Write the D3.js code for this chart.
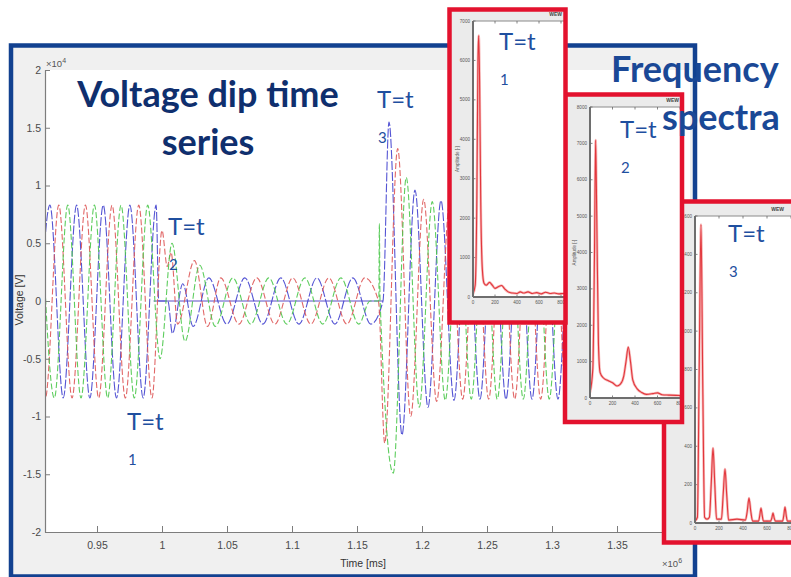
<!DOCTYPE html>
<html>
<head>
<meta charset="utf-8">
<script src="https://cdn.jsdelivr.net/npm/d3@7"></script>
<style>
  body { margin: 0; background: #fff; }
  svg { display: block; }
</style>
</head>
<body>
<svg id="fig" width="791" height="577"></svg>
<script>
// ---------------- data ----------------
// main voltage plot axes (time in x1e6 ms, voltage in x1e4 V)
const xTickValues = [0.95, 1, 1.05, 1.1, 1.15, 1.2, 1.25, 1.3, 1.35];
const xTickLabels = ["0.95", "1", "1.05", "1.1", "1.15", "1.2", "1.25", "1.3", "1.35"];
const yTickValues = [-2, -1.5, -1, -0.5, 0, 0.5, 1, 1.5, 2];
const yTickLabels = ["-2", "-1.5", "-1", "-0.5", "0", "0.5", "1", "1.5", "2"];

// phase voltages given as successive extrema [time, voltage]
const phaseA = [ // blue
  [0.9035,-0.83],[0.9138,0.83],[0.9240,-0.84],[0.9343,0.83],[0.9445,-0.84],[0.9548,0.83],
  [0.9650,-0.84],[0.9753,0.83],[0.9855,-0.84],[0.9955,0.83],[0.9975,0.00],[1.0045,0.00],
  [1.0080,-0.28],[1.0160,0.15],[1.0240,-0.22],[1.0360,0.20],[1.0499,-0.20],[1.0637,0.20],
  [1.0776,-0.20],[1.0914,0.20],[1.1053,-0.20],[1.1191,0.20],[1.1330,-0.20],[1.1468,0.20],
  [1.1607,-0.20],[1.1700,0.00],[1.1746,1.55],[1.1846,-1.16],[1.1946,0.96],[1.2046,-0.92],
  [1.2146,0.87],[1.2246,-0.86],[1.2346,0.85],[1.2446,-0.85],[1.2546,0.85],[1.2646,-0.85],
  [1.2746,0.85],[1.2846,-0.85],[1.2946,0.85],[1.3046,-0.85],[1.3146,0.85],[1.3246,-0.85]
];
const phaseB = [ // red
  [0.9001,0.83],[0.9103,-0.84],[0.9206,0.83],[0.9308,-0.84],[0.9411,0.83],[0.9513,-0.84],
  [0.9616,0.83],[0.9718,-0.84],[0.9821,0.83],[0.9923,-0.84],[1.0000,0.61],[1.0040,0.30],
  [1.0070,0.42],[1.0120,-0.20],[1.0250,0.35],[1.0350,-0.22],[1.0452,0.20],[1.0591,-0.20],
  [1.0729,0.20],[1.0868,-0.20],[1.1006,0.20],[1.1145,-0.20],[1.1283,0.20],[1.1422,-0.20],
  [1.1560,0.20],[1.1665,0.00],[1.1713,-1.23],[1.1813,1.32],[1.1913,-1.00],[1.2013,0.88],
  [1.2113,-0.87],[1.2213,0.85],[1.2313,-0.85],[1.2413,0.85],[1.2513,-0.85],[1.2613,0.85],
  [1.2713,-0.85],[1.2813,0.85],[1.2913,-0.85],[1.3013,0.85],[1.3113,-0.85],[1.3213,0.85]
];
const phaseC = [ // green
  [0.9070,0.83],[0.9172,-0.84],[0.9275,0.83],[0.9377,-0.84],[0.9480,0.83],[0.9582,-0.84],
  [0.9685,0.83],[0.9787,-0.84],[0.9890,0.83],[0.9985,-0.50],[1.0077,0.50],[1.0177,-0.35],
  [1.0290,0.31],[1.0410,-0.22],[1.0545,0.20],[1.0683,-0.20],[1.0822,0.20],[1.0960,-0.20],
  [1.1099,0.20],[1.1237,-0.20],[1.1376,0.20],[1.1514,-0.20],[1.1600,0.00],[1.1668,0.00],
  [1.1672,0.67],[1.1677,0.02],[1.1779,-1.49],[1.1879,1.07],[1.1979,-0.92],[1.2079,0.86],
  [1.2179,-0.86],[1.2279,0.85],[1.2379,-0.85],[1.2479,0.85],[1.2579,-0.85],[1.2679,0.85],
  [1.2779,-0.85],[1.2879,0.85],[1.2979,-0.85],[1.3079,0.85],[1.3179,-0.85],[1.3279,0.85]
];
// flat trace held at zero while the breaker is open
const zeroTrace = [[0.9935,0],[1.1700,0]];

// spectra [frequency Hz, amplitude]
const spectrumT1 = [
  [0,80],[20,300],[35,2500],[45,6000],[52,6630],[60,5500],[70,2500],[85,700],[100,350],
  [120,300],[150,370],[175,300],[200,220],[230,260],[260,290],[290,200],[320,130],[360,100],
  [400,90],[430,130],[460,100],[500,130],[540,90],[580,110],[620,80],[660,120],[700,90],
  [740,100],[780,80],[820,90],[900,80],[1000,80]
];
const spectrumT2 = [
  [0,150],[25,800],[40,4000],[50,7090],[60,5000],[75,1500],[90,700],[120,550],[160,480],
  [200,420],[240,330],[270,380],[300,600],[320,1000],[340,1400],[360,1000],[380,500],
  [420,250],[460,150],[500,100],[560,120],[600,140],[640,90],[700,80],[800,70],[1000,70]
];
const spectrumT3 = [
  [0,10],[20,30],[35,800],[50,1556],[65,700],[80,30],[100,20],[120,30],[135,200],[150,390],
  [165,200],[180,20],[220,20],[235,150],[250,281],[265,140],[280,15],[350,20],[420,15],
  [435,60],[450,130],[465,60],[480,10],[530,10],[540,40],[550,78],[560,40],[570,10],
  [630,10],[640,25],[650,52],[660,25],[670,10],[730,10],[740,40],[750,83],[760,40],
  [770,10],[800,10],[1000,10]
];
const freqTicks = [0, 200, 400, 600, 800, 1000];
const ampTicksT1 = [0, 1000, 2000, 3000, 4000, 5000, 6000, 7000];
const ampTicksT2 = [0, 1000, 2000, 3000, 4000, 5000, 6000, 7000, 8000];
const ampTicksT3 = [0, 200, 400, 600, 800, 1000, 1200, 1400, 1600];

// ---------------- drawing ----------------
const svg = d3.select("#fig");
const defs = svg.append("defs");
const NAVY = "#0f2f6e", BLUE_TXT = "#1a4896", LABEL = "#1f4f9f";
const FRAME = "#124190", INSET_RED = "#e3122e";
const AX_FONT = "'Liberation Sans Narrow','Arial Narrow','Liberation Sans',Arial,sans-serif";
const TITLE_FONT = "Lato,'Open Sans',sans-serif";

svg.append("rect").attr("width", 791).attr("height", 577).attr("fill", "#fff");

// figure frame
svg.append("rect")
  .attr("x", 11).attr("y", 45.5).attr("width", 684).attr("height", 531)
  .attr("fill", "#f0f0f0").attr("stroke", FRAME).attr("stroke-width", 4.5);

// main axes
const plot = { left: 45, right: 690, top: 70, bottom: 532 };
const x = d3.scaleLinear().domain([0.91, 0.91 + (plot.right - plot.left) / 1300]).range([plot.left, plot.right]);
const y = d3.scaleLinear().domain([-2, 2]).range([plot.bottom, plot.top]);

svg.append("rect")
  .attr("x", plot.left).attr("y", plot.top)
  .attr("width", plot.right - plot.left).attr("height", plot.bottom - plot.top)
  .attr("fill", "#fff");

defs.append("clipPath").attr("id", "plotClip").append("rect")
  .attr("x", plot.left).attr("y", plot.top)
  .attr("width", plot.right - plot.left).attr("height", plot.bottom - plot.top);

const line = d3.line().x(d => x(d[0])).y(d => y(d[1])).curve(d3.curveMonotoneX);
const traces = svg.append("g").attr("clip-path", "url(#plotClip)");
traces.append("path").datum(zeroTrace).attr("d", line)
  .attr("fill", "none").attr("stroke", "#5a4fc8").attr("stroke-width", 1);
[[phaseA, "#4242cf", "9,2"], [phaseB, "#de5656", "6,2.5"], [phaseC, "#4cc84c", "6,2.5"]].forEach(([d, c, dash]) => {
  traces.append("path").datum(d).attr("d", line)
    .attr("fill", "none").attr("stroke", c).attr("stroke-width", 1.1)
    .attr("stroke-dasharray", dash).attr("stroke-opacity", 0.9);
});

const yAxis = d3.axisLeft(y).tickValues(yTickValues)
  .tickFormat((d, i) => yTickLabels[i]).tickSizeInner(-5).tickSizeOuter(0).tickPadding(4);
const xAxis = d3.axisBottom(x).tickValues(xTickValues)
  .tickFormat((d, i) => xTickLabels[i]).tickSizeInner(-6).tickSizeOuter(0).tickPadding(10);

function styleAxis(g) {
  g.select(".domain").attr("stroke", "#7d7d7d").attr("stroke-width", 1.2);
  g.selectAll(".tick line").attr("stroke", "#7d7d7d");
  g.selectAll(".tick text").attr("fill", "#4a4a4a")
    .style("font-family", AX_FONT).style("font-size", "10.5px");
}
svg.append("g").attr("transform", `translate(${plot.left},0)`).call(yAxis).call(styleAxis);
svg.append("g").attr("transform", `translate(0,${plot.bottom})`).call(xAxis).call(styleAxis);

// axis labels and exponent markers
svg.append("text").attr("transform", "translate(23,300) rotate(-90)")
  .attr("text-anchor", "middle").attr("fill", "#333")
  .style("font-family", AX_FONT).style("font-size", "10.5px").text("Voltage [V]");
svg.append("text").attr("x", 363).attr("y", 567).attr("text-anchor", "middle").attr("fill", "#333")
  .style("font-family", AX_FONT).style("font-size", "10.5px").text("Time [ms]");
function expLabel(px, py, exp) {
  const t = svg.append("text").attr("x", px).attr("y", py).attr("fill", "#555")
    .style("font-family", AX_FONT).style("font-size", "9.5px");
  t.append("tspan").text("×10");
  t.append("tspan").attr("dy", -4).style("font-size", "7px").text(exp);
}
expLabel(46, 67, "4");
expLabel(662, 567, "6");

// headline over the time series
svg.append("text").attr("x", 208).attr("y", 107).attr("text-anchor", "middle")
  .attr("fill", NAVY).style("font-family", TITLE_FONT).style("font-weight", 700)
  .style("font-size", "36px").text("Voltage dip time");
svg.append("text").attr("x", 208).attr("y", 155).attr("text-anchor", "middle")
  .attr("fill", NAVY).style("font-family", TITLE_FONT).style("font-weight", 700)
  .style("font-size", "36px").text("series");

function instantLabel(px, py, sub) {
  svg.append("text").attr("x", px).attr("y", py).attr("fill", LABEL)
    .style("font-family", TITLE_FONT).style("font-size", "24px").text("T=t");
  svg.append("text").attr("x", px + 1).attr("y", py + 35).attr("fill", LABEL)
    .style("font-family", TITLE_FONT).style("font-size", "15px").text(sub);
}
instantLabel(127, 430, "1");
instantLabel(168, 235, "2");
instantLabel(377, 108, "3");

// ---------------- spectrum insets ----------------
function drawInset(id, box, area, data, ampTicks) {
  const g = svg.append("g");
  defs.append("clipPath").attr("id", id).append("rect")
    .attr("x", box.x).attr("y", box.y).attr("width", box.w).attr("height", box.h);
  const inner = g.append("g").attr("clip-path", `url(#${id})`);
  inner.append("rect").attr("x", box.x).attr("y", box.y).attr("width", box.w).attr("height", box.h)
    .attr("fill", "#ebebeb");

  const fx = d3.scaleLinear().domain([0, 1000]).range([area.left, area.left + area.px200 * 5]);
  const fy = d3.scaleLinear().domain([0, ampTicks[ampTicks.length - 1]]).range([area.bottom, area.top]);
  const r = fx(1000);

  inner.append("rect").attr("x", area.left).attr("y", area.top)
    .attr("width", r - area.left).attr("height", area.bottom - area.top).attr("fill", "#fff");
  inner.append("line").attr("x1", area.left).attr("x2", r).attr("y1", area.top).attr("y2", area.top)
    .attr("stroke", "#8a8a8a").attr("stroke-width", 1);

  // ticks
  inner.selectAll(null).data(freqTicks).join("line")
    .attr("x1", d => fx(d)).attr("x2", d => fx(d)).attr("y1", area.top).attr("y2", area.top + 2.5)
    .attr("stroke", "#666").attr("stroke-width", 0.8);
  inner.selectAll(null).data(freqTicks).join("line")
    .attr("x1", d => fx(d)).attr("x2", d => fx(d)).attr("y1", area.bottom).attr("y2", area.bottom - 2.5)
    .attr("stroke", "#666").attr("stroke-width", 0.8);
  inner.selectAll(null).data(ampTicks).join("line")
    .attr("x1", area.left).attr("x2", area.left + 2.5).attr("y1", d => fy(d)).attr("y2", d => fy(d))
    .attr("stroke", "#666").attr("stroke-width", 0.8);
  inner.selectAll(null).data(freqTicks).join("text")
    .attr("x", d => fx(d)).attr("y", area.bottom + 7).attr("text-anchor", "middle")
    .attr("fill", "#555").style("font-family", AX_FONT).style("font-size", "4.6px").text(d => d);
  inner.selectAll(null).data(ampTicks).join("text")
    .attr("x", area.left - 3).attr("y", d => fy(d) + 1.6).attr("text-anchor", "end")
    .attr("fill", "#555").style("font-family", AX_FONT).style("font-size", "4.6px").text(d => d);
  inner.append("text")
    .attr("transform", `translate(${area.left - 14},${(area.top + area.bottom) / 2}) rotate(-90)`)
    .attr("text-anchor", "middle").attr("fill", "#555")
    .style("font-family", AX_FONT).style("font-size", "4.6px").text("Amplitude [-]");
  inner.append("text").attr("x", area.left + 89).attr("y", area.top - 5).attr("text-anchor", "end")
    .attr("fill", "#444").style("font-family", AX_FONT).style("font-weight", 700)
    .style("font-size", "5px").text("WEW");

  // spectrum line
  const sl = d3.line().x(d => fx(d[0])).y(d => fy(d[1])).curve(d3.curveMonotoneX);
  const plotClipId = id + "-area";
  defs.append("clipPath").attr("id", plotClipId).append("rect")
    .attr("x", area.left).attr("y", area.top - 2).attr("width", r - area.left).attr("height", area.bottom - area.top + 2);
  const lg = inner.append("g").attr("clip-path", `url(#${plotClipId})`);
  lg.append("path").datum(data).attr("d", sl).attr("fill", "none")
    .attr("stroke", "#f29a9a").attr("stroke-width", 2.6).attr("stroke-opacity", 0.7);
  lg.append("path").datum(data).attr("d", sl).attr("fill", "none")
    .attr("stroke", "#e2363c").attr("stroke-width", 1.1);

  // axis lines
  inner.append("line").attr("x1", area.left).attr("x2", area.left).attr("y1", area.top).attr("y2", area.bottom)
    .attr("stroke", "#6e6e6e").attr("stroke-width", 2);
  inner.append("line").attr("x1", area.left).attr("x2", r).attr("y1", area.bottom).attr("y2", area.bottom)
    .attr("stroke", "#6e6e6e").attr("stroke-width", 2);

  g.append("rect").attr("x", box.x).attr("y", box.y).attr("width", box.w).attr("height", box.h)
    .attr("fill", "none").attr("stroke", INSET_RED).attr("stroke-width", 4.5);
}

drawInset("insetT3", { x: 664, y: 201.5, w: 200, h: 341 },
  { left: 695, top: 216, bottom: 523, px200: 24 }, spectrumT3, ampTicksT3);
drawInset("insetT2", { x: 565, y: 94.5, w: 117, h: 327.5 },
  { left: 590, top: 107, bottom: 398, px200: 22.5 }, spectrumT2, ampTicksT2);
drawInset("insetT1", { x: 449.5, y: 9.5, w: 116, h: 313 },
  { left: 473, top: 21, bottom: 297, px200: 22 }, spectrumT1, ampTicksT1);

// headline over the spectra
svg.append("text").attr("x", 611).attr("y", 82)
  .attr("fill", BLUE_TXT).style("font-family", TITLE_FONT).style("font-weight", 700)
  .style("font-size", "36px").text("Frequency");
svg.append("text").attr("x", 662).attr("y", 130)
  .attr("fill", BLUE_TXT).style("font-family", TITLE_FONT).style("font-weight", 700)
  .style("font-size", "36px").text("spectra");

instantLabel(499, 50, "1");
instantLabel(620, 138, "2");
instantLabel(728, 242, "3");
</script>
</body>
</html>
